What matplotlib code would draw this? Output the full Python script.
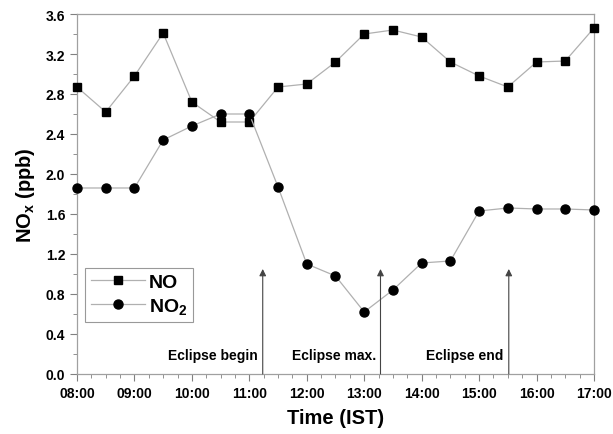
"""
NO and NO2 mixing ratios around the solar eclipse.
"""

# %% imports
import numpy as np
import matplotlib.pyplot as plt
from matplotlib.ticker import MultipleLocator, FuncFormatter

plt.rcParams['font.family'] = ['Liberation Sans', 'DejaVu Sans']
plt.rcParams['font.weight'] = 'bold'
plt.rcParams['mathtext.fontset'] = 'custom'
plt.rcParams['mathtext.rm'] = 'Liberation Sans:bold'
plt.rcParams['mathtext.it'] = 'Liberation Sans:bold'
plt.rcParams['mathtext.bf'] = 'Liberation Sans:bold'
plt.rcParams['mathtext.default'] = 'rm'


# %% data
times = ['08:00', '08:30', '09:00', '09:30', '10:00', '10:30', '11:00', '11:30', '12:00', '12:30',
         '13:00', '13:30', '14:00', '14:30', '15:00', '15:30', '16:00', '16:30', '17:00']
no = [2.87, 2.62, 2.98, 3.41, 2.72, 2.52, 2.52, 2.87, 2.90, 3.12,
      3.40, 3.44, 3.37, 3.12, 2.98, 2.87, 3.12, 3.13, 3.46]
no2 = [1.86, 1.86, 1.86, 2.34, 2.48, 2.60, 2.60, 1.87, 1.10, 0.98,
       0.62, 0.84, 1.11, 1.13, 1.63, 1.66, 1.65, 1.65, 1.64]

eventLabels = ['Eclipse begin', 'Eclipse max.', 'Eclipse end']
eventTimes = ['11:14', '13:17', '15:31']


# %% convert HH:MM to decimal hours
def to_hours(t):
    h, m = t.split(':')
    return int(h) + int(m) / 60

hrs = np.array([to_hours(t) for t in times])
evHrs = [to_hours(t) for t in eventTimes]


# %% plot
fig = plt.figure(figsize=(6.13, 4.35), dpi=100)
ax = fig.add_axes([0.1256, 0.138, 0.8434, 0.8275])

lineCol = '#b0b0b0'
ax.plot(hrs, no, '-', color=lineCol, lw=0.9, marker='s', ms=6.2,
        mfc='black', mec='black', label='NO', clip_on=False, zorder=3)
ax.plot(hrs, no2, '-', color=lineCol, lw=0.9, marker='o', ms=6.5,
        mfc='black', mec='black', label='NO$_2$', clip_on=False, zorder=3)

# eclipse arrows and labels
for lab, x in zip(eventLabels, evHrs):
    ax.annotate('', xy=(x, 1.05), xytext=(x, 0.0),
                arrowprops=dict(arrowstyle='-|>', color='#444444', lw=0.8,
                                mutation_scale=10, shrinkA=0, shrinkB=0))
ax.text(evHrs[0] - 0.08, 0.19, eventLabels[0], ha='right', va='center', fontsize=10)
ax.text(evHrs[1] - 0.07, 0.19, eventLabels[1], ha='right', va='center', fontsize=10)
ax.text(evHrs[2] - 0.1, 0.19, eventLabels[2], ha='right', va='center', fontsize=10)

ax.set_xlim(8, 17)
ax.set_ylim(0, 3.6)
ax.xaxis.set_major_locator(MultipleLocator(1))
ax.xaxis.set_minor_locator(MultipleLocator(0.25))
ax.yaxis.set_major_locator(MultipleLocator(0.4))
ax.yaxis.set_minor_locator(MultipleLocator(0.2))
ax.xaxis.set_major_formatter(FuncFormatter(lambda v, p: f'{int(round(v)):02d}:00'))
ax.yaxis.set_major_formatter(FuncFormatter(lambda v, p: f'{v:.1f}'))

for sp in ax.spines.values():
    sp.set_color('#a0a0a0')
    sp.set_linewidth(0.9)
ax.tick_params(which='both', direction='out', color='#808080', top=False, right=False)
ax.tick_params(which='major', length=5, labelsize=10)
ax.tick_params(which='minor', length=3)

ax.set_xlabel('Time (IST)', fontsize=14.5, fontweight='bold', labelpad=6)
ax.set_ylabel('NO$_x$ (ppb)', fontsize=14.5, fontweight='bold', labelpad=6)

leg = ax.legend(loc='lower left', bbox_to_anchor=(0.0155, 0.1444), borderaxespad=0,
                fontsize=14, frameon=True, fancybox=False, handlelength=2.8,
                borderpad=0.3, labelspacing=0.25, handletextpad=0.2)
leg.get_frame().set_edgecolor('#808080')
leg.get_frame().set_linewidth(0.8)

plt.savefig('out.png', dpi=100)
